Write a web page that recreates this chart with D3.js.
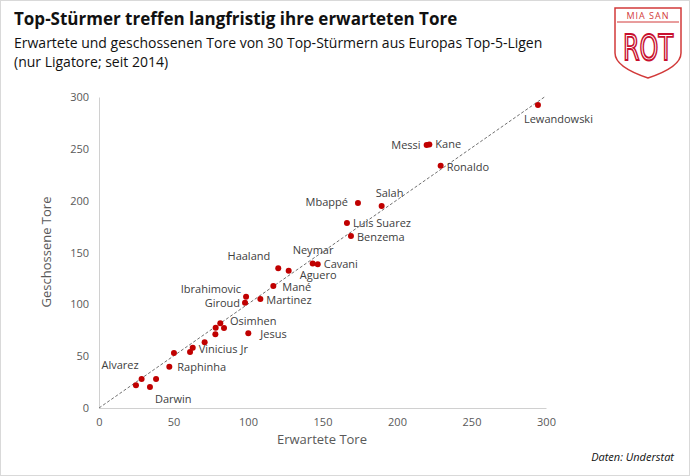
<!DOCTYPE html>
<html><head><meta charset="utf-8">
<script src="https://cdn.jsdelivr.net/npm/d3@7"></script>
<style>
body{margin:0;background:#fff;font-family:"Open Sans","Liberation Sans",sans-serif;}
</style></head>
<body><svg id="c" width="690" height="476"></svg>
<script>
// data
var players = ['Lewandowski','Messi','Kane','Ronaldo','Mbappé','Salah','Luis Suarez','Benzema','Neymar','Cavani','Haaland','Aguero','Mané','Ibrahimovic','Giroud','Martinez','Osimhen','','','','Jesus','','Vinicius Jr','','','Raphinha','Alvarez','','Darwin',''];
var xG    = [294.6,219.9,221.7,229.3,173.8,189.7,166.4,169.1,143.4,146.8,120.3,127.3,117,98.7,98,108.3,83.9,81.4,78.3,78.1,100.2,70.9,62.9,61.1,50.3,47.2,28.6,38.3,34.2,24.8];
var goals = [292.2,253.6,254.2,233.7,197.7,194.8,178.4,165.9,139.5,138.6,134.7,132.4,117.6,107.3,101.5,105.1,77.1,81.7,77.4,71.1,72.0,63.4,58.1,54,53,39.8,28,28,20.2,21.9];
// label offsets [dx, dy, anchor]
var labelPos = {
 'Lewandowski':[-14,18,'start'],'Messi':[-6,4,'end'],'Kane':[6,4,'start'],'Ronaldo':[6,5,'start'],
 'Mbappé':[-10,3,'end'],'Salah':[-6,-9,'start'],'Luis Suarez':[6,4,'start'],'Benzema':[6,5,'start'],
 'Neymar':[-20,-9,'start'],'Cavani':[6,4,'start'],'Haaland':[-8,-8,'end'],'Aguero':[11,8,'start'],
 'Mané':[9,5,'start'],'Ibrahimovic':[-5,-4,'end'],'Giroud':[-5,4,'end'],'Martinez':[6,5,'start'],
 'Osimhen':[6,-3,'start'],'Jesus':[12,5,'start'],'Vinicius Jr':[6,5,'start'],'Raphinha':[8,4,'start'],
 'Alvarez':[-3,-10,'end'],'Darwin':[5,16,'start']
};
var ticks = [0,50,100,150,200,250,300];

var svg = d3.select('#c');
svg.append('rect').attr('x',0.5).attr('y',0.5).attr('width',689).attr('height',475).attr('fill','#fff').attr('stroke','#d9d9d9');

svg.append('text').attr('x',14).attr('y',25).attr('font-size',17).attr('font-weight',700).attr('fill','#111').text('Top-Stürmer treffen langfristig ihre erwarteten Tore');
svg.append('text').attr('x',14).attr('y',48).attr('font-size',14).attr('fill','#111').text('Erwartete und geschossenen Tore von 30 Top-Stürmern aus Europas Top-5-Ligen');
svg.append('text').attr('x',14).attr('y',67).attr('font-size',14).attr('fill','#111').text('(nur Ligatore; seit 2014)');

// logo
var logo = svg.append('g').attr('transform','translate(611,5)');
logo.append('path').attr('d','M4,3 H70 V48 Q70,62 37,73 Q4,62 4,48 Z').attr('fill','#fff').attr('stroke','#d23a3a').attr('stroke-width',1.5);
logo.append('line').attr('x1',6).attr('x2',68).attr('y1',17).attr('y2',17).attr('stroke','#d23a3a');
logo.append('text').attr('x',37).attr('y',14).attr('text-anchor','middle').attr('font-size',9).attr('fill','#d23a3a').attr('letter-spacing',1).text('MIA SAN');
logo.append('text').attr('x',37).attr('y',55).attr('text-anchor','middle').attr('font-size',36).attr('font-family','"DejaVu Sans Condensed",sans-serif').attr('fill','#fff').attr('stroke','#c8102e').attr('stroke-width',1.8).attr('textLength',50).attr('lengthAdjust','spacingAndGlyphs').text('ROT');

var x = d3.scaleLinear().domain([0,300]).range([99,546]);
var y = d3.scaleLinear().domain([0,300]).range([408,97]);

var gx = svg.append('g').attr('transform','translate(0,408)').call(d3.axisBottom(x).tickValues(ticks).tickSize(0).tickPadding(10));
var gy = svg.append('g').attr('transform','translate(99,0)').call(d3.axisLeft(y).tickValues(ticks).tickSize(0).tickPadding(10));
[gx,gy].forEach(function(g){
  g.select('.domain').attr('stroke','#d0d0d0');
  g.selectAll('text').attr('font-size',11).attr('fill','#595959').attr('font-family','"Open Sans",sans-serif');
});

svg.append('text').attr('x',322).attr('y',444).attr('text-anchor','middle').attr('font-size',13).attr('fill','#595959').text('Erwartete Tore');
svg.append('text').attr('transform','translate(51,252) rotate(-90)').attr('text-anchor','middle').attr('font-size',13).attr('fill','#595959').text('Geschossene Tore');

svg.append('line').attr('x1',x(0)).attr('y1',y(0)).attr('x2',x(299)).attr('y2',y(300))
  .attr('stroke','#707070').attr('stroke-dasharray','3,2').attr('stroke-width',1);

svg.selectAll('circle.p').data(xG).enter().append('circle').attr('class','p')
  .attr('cx',function(d){return x(d)}).attr('cy',function(d,i){return y(goals[i])})
  .attr('r',3).attr('fill','#c00000');

players.forEach(function(name,i){
  if(!name) return;
  var p = labelPos[name];
  svg.append('text').attr('x',x(xG[i])+p[0]).attr('y',y(goals[i])+p[1]).attr('text-anchor',p[2])
    .attr('font-size',11).attr('fill','#404040').text(name);
});

svg.append('text').attr('x',674).attr('y',461).attr('text-anchor','end').attr('font-size',11).attr('font-style','italic').attr('fill','#111').text('Daten: Understat');
</script></body></html>
